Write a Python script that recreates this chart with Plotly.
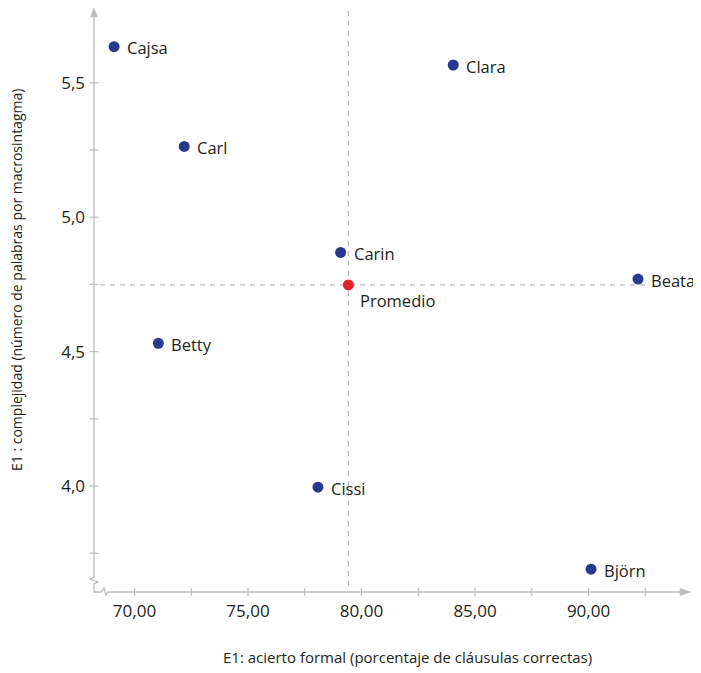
import plotly.graph_objects as go

# ---- data ----
names = ["Cajsa", "Clara", "Carl", "Carin", "Beata", "Betty", "Cissi", "Björn"]
acierto = [69.10, 84.04, 72.19, 79.08, 92.18, 71.05, 78.08, 90.11]
complejidad = [5.634, 5.566, 5.263, 4.869, 4.770, 4.531, 3.996, 3.691]
mean_name = "Promedio"
mean_x = 79.42
mean_y = 4.748

x_major = [70, 75, 80, 85, 90]
x_major_labels = ["70,00", "75,00", "80,00", "85,00", "90,00"]
x_minor = [72.5, 77.5, 82.5, 87.5, 92.5]
y_major = [4.0, 4.5, 5.0, 5.5]
y_major_labels = ["4,0", "4,5", "5,0", "5,5"]
y_minor = [3.75, 4.25, 4.75, 5.25]

x_title = "E1: acierto formal (porcentaje de cláusulas correctas)"
y_title = "E1 : complejidad (número de palabras por macrosintagma)"

# ---- layout geometry (page pixels; the page body has an 8px margin) ----
OFF = 8
W, H = 701 - OFF, 673 - OFF
PL, PR, PT, PB = 94, 690, 8, 592          # plot area in page pixels
L, R, T, B = PL - OFF, W - (PR - OFF), PT - OFF, H - (PB - OFF)
PW, PH = PR - PL, PB - PT
X_RANGE = [68.216, 94.47]
Y_RANGE = [3.606, 5.778]

FONT = "Open Sans, Noto Sans, sans-serif"
AX = "#bdbdbd"
BLUE = "#2a3990"
RED = "#e8202a"
TXT = "#231f20"


def px(xp):
    return (xp - PL) / PW


def py(yp):
    return (PB - yp) / PH


fig = go.Figure()

fig.add_trace(go.Scatter(
    x=acierto, y=complejidad, mode="markers",
    marker=dict(color=BLUE, size=11), hoverinfo="text", text=names,
    showlegend=False, cliponaxis=False))
fig.add_trace(go.Scatter(
    x=[mean_x], y=[mean_y], mode="markers",
    marker=dict(color=RED, size=11), hoverinfo="text", text=[mean_name],
    showlegend=False, cliponaxis=False))

shapes = []
# mean dashed lines
shapes.append(dict(type="line", xref="x", yref="paper", x0=mean_x, x1=mean_x,
                   y0=py(586), y1=py(10),
                   line=dict(color="#aaaaaa", width=1, dash="5px,5px"), layer="below"))
shapes.append(dict(type="line", xref="paper", yref="y", x0=px(100), x1=px(645),
                   y0=mean_y, y1=mean_y,
                   line=dict(color="#aaaaaa", width=1, dash="5px,5px"), layer="below"))

# axis lines with break
shapes.append(dict(type="path", xref="paper", yref="paper",
                   path=(f"M {px(94)},{py(17)} L {px(94)},{py(577)} "
                         f"L {px(90)},{py(579)} L {px(98)},{py(582)} L {px(94)},{py(584)} "
                         f"L {px(94)},{py(592)} L {px(101)},{py(592)} "
                         f"L {px(104)},{py(588)} L {px(106)},{py(595)} L {px(108)},{py(592)} "
                         f"L {px(681)},{py(592)}"),
                   line=dict(color=AX, width=1.3)))
# arrows
shapes.append(dict(type="path", xref="paper", yref="paper",
                   path=f"M {px(94)},{py(8)} L {px(90.5)},{py(17)} L {px(97.5)},{py(17)} Z",
                   fillcolor=AX, line=dict(color=AX, width=0.5)))
shapes.append(dict(type="path", xref="paper", yref="paper",
                   path=f"M {px(691)},{py(592)} L {px(680)},{py(588.5)} L {px(680)},{py(595.5)} Z",
                   fillcolor=AX, line=dict(color=AX, width=0.5)))
# ticks
for v in x_major + x_minor:
    shapes.append(dict(type="line", xref="x", yref="paper", x0=v, x1=v,
                       y0=py(596), y1=py(588), line=dict(color=AX, width=1.2)))
for v in y_major + y_minor:
    shapes.append(dict(type="line", xref="paper", yref="y", x0=px(89.5), x1=px(98.5),
                       y0=v, y1=v, line=dict(color=AX, width=1.2)))

annotations = []
for n, xv, yv in zip(names, acierto, complejidad):
    annotations.append(dict(x=xv, y=yv, text=n, showarrow=False, xanchor="left",
                            yanchor="middle", xshift=11, yshift=-1,
                            font=dict(family=FONT, size=16.5, color=TXT)))
annotations.append(dict(x=mean_x, y=mean_y, text=mean_name, showarrow=False,
                        xanchor="left", yanchor="middle", xshift=10, yshift=-16,
                        font=dict(family=FONT, size=16.5, color=TXT)))
annotations.append(dict(x=px(407), y=py(657), xref="paper", yref="paper", text=x_title,
                        showarrow=False, xanchor="center", yanchor="middle",
                        font=dict(family=FONT, size=15, color=TXT)))
annotations.append(dict(x=px(16), y=py(280), xref="paper", yref="paper", text=y_title,
                        showarrow=False, xanchor="center", yanchor="middle", textangle=-90,
                        font=dict(family=FONT, size=14, color=TXT)))

fig.update_layout(
    width=W, height=H,
    margin=dict(l=L, r=R, t=T, b=B, autoexpand=False),
    paper_bgcolor="white", plot_bgcolor="white",
    shapes=shapes, annotations=annotations,
    xaxis=dict(range=X_RANGE, showgrid=False, zeroline=False, showline=False,
               tickmode="array", tickvals=x_major, ticktext=x_major_labels,
               ticks="", ticklabelstandoff=7,
               tickfont=dict(family=FONT, size=17, color=TXT), fixedrange=True),
    yaxis=dict(range=Y_RANGE, showgrid=False, zeroline=False, showline=False,
               tickmode="array", tickvals=y_major, ticktext=y_major_labels,
               ticks="", ticklabelstandoff=8,
               tickfont=dict(family=FONT, size=17, color=TXT), fixedrange=True),
)

fig.write_html("out.html")
